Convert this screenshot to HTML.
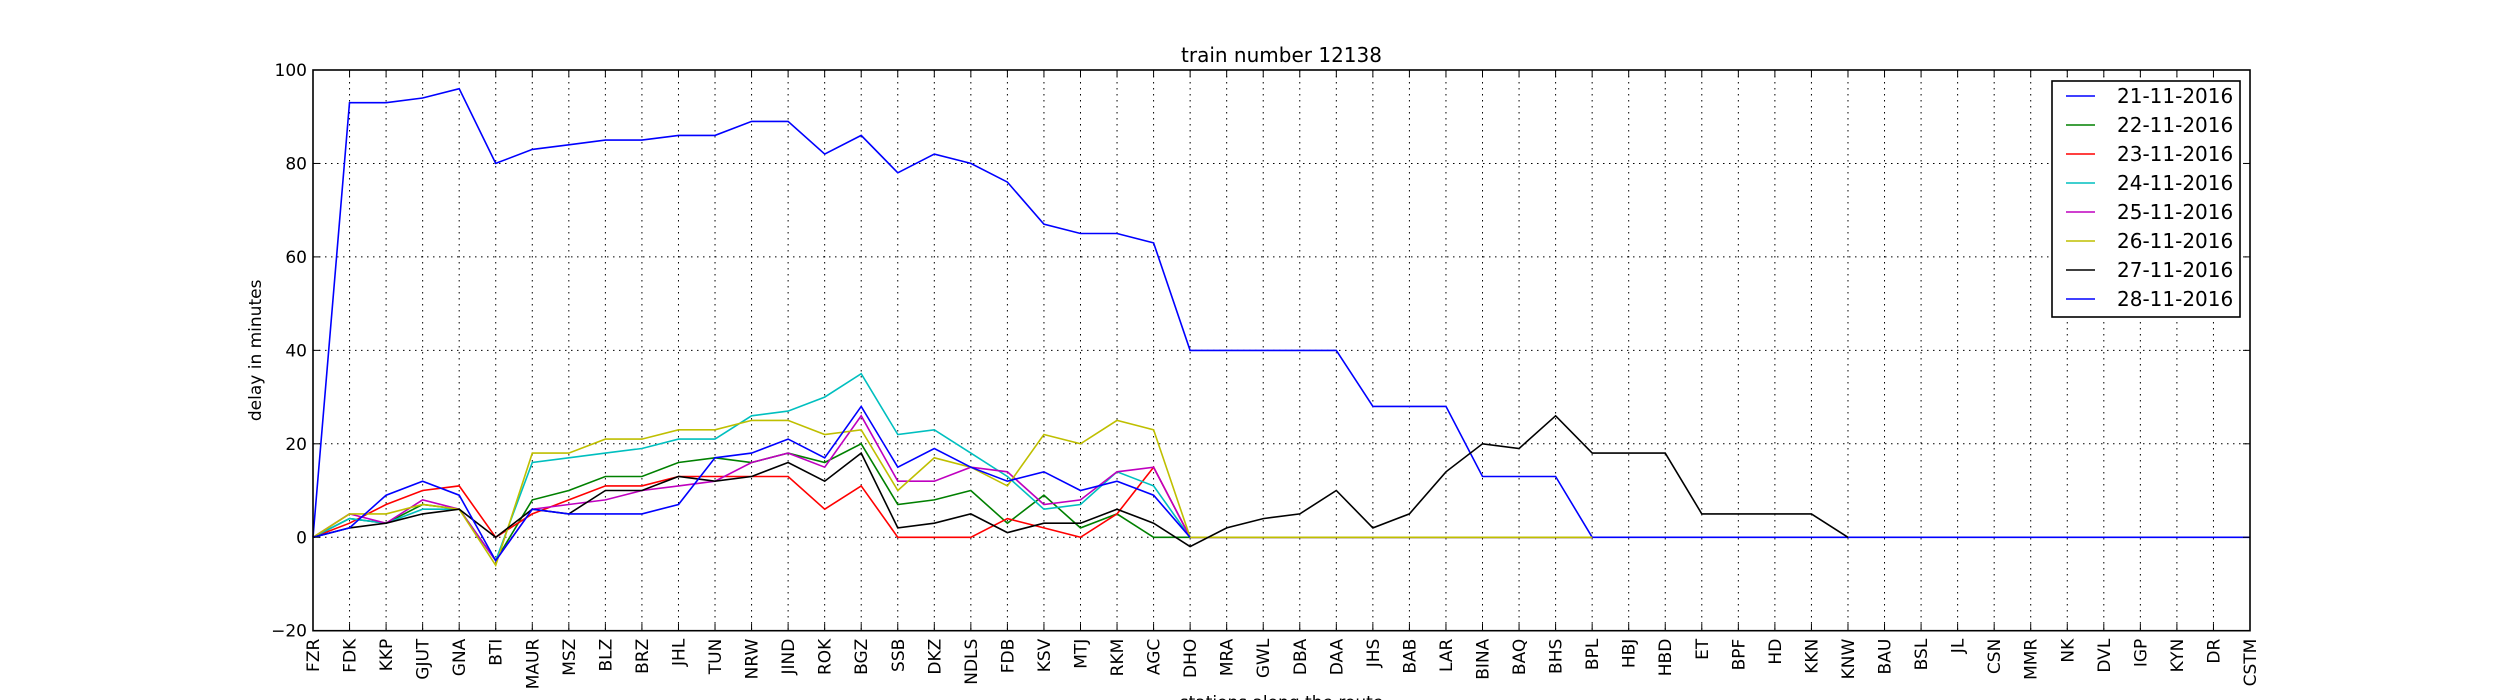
<!DOCTYPE html>
<html><head><meta charset="utf-8"><style>
html,body{margin:0;padding:0;background:#fff;}
svg{display:block;font-family:"DejaVu Sans","Liberation Sans",sans-serif;}
</style></head><body>
<svg id="chart" width="2500" height="700"></svg>
<script>
const stations=["FZR","FDK","KKP","GJUT","GNA","BTI","MAUR","MSZ","BLZ","BRZ","JHL","TUN","NRW","JIND","ROK","BGZ","SSB","DKZ","NDLS","FDB","KSV","MTJ","RKM","AGC","DHO","MRA","GWL","DBA","DAA","JHS","BAB","LAR","BINA","BAQ","BHS","BPL","HBJ","HBD","ET","BPF","HD","KKN","KNW","BAU","BSL","JL","CSN","MMR","NK","DVL","IGP","KYN","DR","CSTM"];
const yTicks=[-20,0,20,40,60,80,100];
const seriesLabels=["21-11-2016","22-11-2016","23-11-2016","24-11-2016","25-11-2016","26-11-2016","27-11-2016","28-11-2016"];
const seriesColors=["#0000ff","#008000","#ff0000","#00bfbf","#bf00bf","#bfbf00","#000000","#0000ff"];
const d21=[0,93,93,94,96,80,83,84,85,85,86,86,89,89,82,86,78,82,80,76,67,65,65,63,40,40,40,40,40,28,28,28,13,13,13,0,0,0,0,0,0,0,0,0,0,0,0,0,0,0,0,0,0,0];
const d22=[0,4,3,7,6,-5,8,10,13,13,16,17,16,18,16,20,7,8,10,3,9,2,5,0,0,0,0,0,0,0,0,0,0,0,0,0];
const d23=[0,3,7,10,11,0,5,8,11,11,13,13,13,13,6,11,0,0,0,4,2,0,5,15,0,0,0,0,0,0,0,0,0,0,0,0];
const d24=[0,4,3,6,6,-5,16,17,18,19,21,21,26,27,30,35,22,23,18,13,6,7,14,11,0,0,0,0,0,0,0,0,0,0,0,0];
const d25=[0,5,3,8,6,-5,6,7,8,10,11,12,16,18,15,26,12,12,15,14,7,8,14,15,0,0,0,0,0,0,0,0,0,0,0,0];
const d26=[0,5,5,7,6,-6,18,18,21,21,23,23,25,25,22,23,10,17,15,11,22,20,25,23,0,0,0,0,0,0,0,0,0,0,0,0];
const d27=[0,2,3,5,6,0,6,5,10,10,13,12,13,16,12,18,2,3,5,1,3,3,6,3,-2,2,4,5,10,2,5,14,20,19,26,18,18,18,5,5,5,5,0];
const d28=[0,2,9,12,9,-5,6,5,5,5,7,17,18,21,17,28,15,19,15,12,14,10,12,9,0];
const allSeries=[d21,d22,d23,d24,d25,d26,d27,d28];

const L=313,R=2250,T=70,B=630.7,yMin=-20,yMax=100;
const xs=i=>L+(R-L)*i/(stations.length-1);
const ys=v=>B-(B-T)*(v-yMin)/(yMax-yMin);
const NS="http://www.w3.org/2000/svg";
const svg=document.getElementById('chart');
function mk(tag,attrs,parent){const e=document.createElementNS(NS,tag);for(const k in attrs)e.setAttribute(k,attrs[k]);(parent||svg).appendChild(e);return e;}

// grid
const grid=mk('g',{});


stations.forEach((s,i)=>{mk('line',{x1:xs(i),x2:xs(i),y1:T,y2:B,stroke:'#000','stroke-width':1,'stroke-dasharray':'1.5,4.5'},grid);});
yTicks.forEach(v=>{mk('line',{x1:L,x2:R,y1:ys(v),y2:ys(v),stroke:'#000','stroke-width':1,'stroke-dasharray':'1.5,4.5'},grid);});

// series
allSeries.forEach((d,k)=>{
  const pts=d.map((v,i)=>xs(i).toFixed(1)+','+ys(v).toFixed(1)).join(' ');
  const pl=mk('polyline',{points:pts,fill:'none',stroke:seriesColors[k],'stroke-width':1.6,'stroke-linejoin':'miter'});
  
  
});

// frame
const frame=mk('rect',{x:L,y:T,width:R-L,height:B-T,fill:'none',stroke:'#000','stroke-width':1.6});



// y ticks
yTicks.forEach(v=>{
  mk('line',{x1:L,x2:L+7,y1:ys(v),y2:ys(v),stroke:'#000'});
  mk('line',{x1:R-7,x2:R,y1:ys(v),y2:ys(v),stroke:'#000'});
  const t=mk('text',{x:L-6,y:ys(v)+6,'text-anchor':'end','font-size':17});
  t.textContent=v<0?'\u2212'+(-v):String(v);
  
  
});
// x ticks
stations.forEach((s,i)=>{
  mk('line',{x1:xs(i),x2:xs(i),y1:B,y2:B-7,stroke:'#000'});
  mk('line',{x1:xs(i),x2:xs(i),y1:T,y2:T+7,stroke:'#000'});
  const t=mk('text',{x:0,y:0,'text-anchor':'end','font-size':17,transform:`translate(${xs(i)+6},${B+8}) rotate(-90)`});
  t.textContent=s;
  
  
});

// titles
const title=mk('text',{x:(L+R)/2,y:62,'text-anchor':'middle','font-size':20});
title.textContent='train number 12138';


const yl=mk('text',{x:0,y:0,'text-anchor':'middle','font-size':17,transform:`translate(261,${(T+B)/2}) rotate(-90)`});
yl.textContent='delay in minutes';


const xl=mk('text',{x:(L+R)/2,y:708,'text-anchor':'middle','font-size':17});
xl.textContent='stations along the route';



// legend
const lg=mk('g',{});


mk('rect',{x:2052,y:81,width:188,height:236,fill:'#fff',stroke:'#000','stroke-width':1.6},lg);
seriesLabels.forEach((lab,k)=>{
  const y=96+k*29;
  const g=mk('g',{},lg);
  
  
  mk('line',{x1:2066,x2:2095,y1:y,y2:y,stroke:seriesColors[k],'stroke-width':1.6},g);
  const t=mk('text',{x:2117,y:y+7,'font-size':20},g);
  t.textContent=lab;
});
</script>
</body></html>
